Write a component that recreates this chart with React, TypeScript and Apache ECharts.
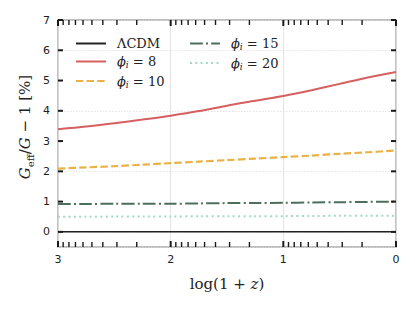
import React, { useEffect, useRef } from "react";
import * as echarts from "echarts";

// log(1+z) sample positions (axis runs from 3 on the left to 0 on the right)
const logx = [3, 2.75, 2.5, 2.25, 2, 1.75, 1.5, 1.25, 1, 0.75, 0.5, 0.25, 0];
const lcdm = [0, 0, 0, 0, 0, 0, 0, 0, 0, 0, 0, 0, 0];
const phi8 = [3.39, 3.48, 3.59, 3.71, 3.84, 3.99, 4.17, 4.33, 4.49, 4.68, 4.89, 5.1, 5.28];
const phi10 = [2.09, 2.13, 2.17, 2.22, 2.27, 2.32, 2.37, 2.42, 2.47, 2.52, 2.58, 2.63, 2.69];
const phi15 = [0.92, 0.92, 0.93, 0.93, 0.93, 0.94, 0.95, 0.95, 0.96, 0.97, 0.98, 0.99, 1.0];
const phi20 = [0.5, 0.5, 0.505, 0.51, 0.51, 0.515, 0.52, 0.52, 0.52, 0.525, 0.53, 0.53, 0.53];

const Y_MIN = -0.5;
const Y_MAX = 7;
const X_MIN = 0;
const X_MAX = 3;
const yTicks = [0, 1, 2, 3, 4, 5, 6, 7];
const xMajor = [0, 1, 2, 3];
const minorK = [2, 3, 4, 5, 6, 7, 8, 9];
const xMinor = [0, 1, 2].flatMap((n) => minorK.map((k) => n + Math.log10(k)));

const names = ["ΛCDM", "ϕ=8", "ϕ=10", "ϕ=15", "ϕ=20"];

const SERIF = "'DejaVu Serif', 'Liberation Serif', serif";
const SANS = "'DejaVu Sans', sans-serif";

export default function App() {
  const ref = useRef<HTMLDivElement>(null);
  useEffect(() => {
    document.body.style.margin = "0";
    const chart = echarts.init(ref.current!, null, { renderer: "svg" });
    const pair = (ys: number[]) => logx.map((x, i) => [x, ys[i]]);
    const TICK = "#1a1a1a";
    const legendRich = {
      g: { padding: [0, 0, 0, 6], fontFamily: SERIF, fontSize: 13, lineHeight: 16, color: "#222" },
      t: { fontFamily: SERIF, fontSize: 13, lineHeight: 16, color: "#222" },
      m: { fontFamily: SERIF, fontStyle: "italic", fontSize: 13, lineHeight: 16, color: "#222", padding: [0, 0, 0, 6] },
      s: { fontFamily: SERIF, fontStyle: "italic", fontSize: 9, lineHeight: 8, verticalAlign: "bottom", color: "#222" },
    };
    const legendFmt = (name: string) => {
      if (name === "ΛCDM") return "{g|ΛCDM}";
      const v = name.split("=")[1];
      return `{m|ϕ}{s|i}{t| = ${v}}`;
    };
    const legendBase = {
      orient: "vertical",
      itemWidth: 30,
      itemHeight: 14,
      itemGap: 5,
      formatter: legendFmt,
      textStyle: { rich: legendRich },
      itemStyle: { opacity: 0 },
      backgroundColor: "transparent",
    };

    // tick marks: [value, length px, width px]
    const xTickData = [
      ...xMajor.map((v) => [v, 6, 2]),
      ...xMinor.map((v) => [v, 5, 1.4]),
    ];
    const yTickData = yTicks.map((v) => [v, 5, 2]);

    const xTickSeries = {
      type: "custom",
      name: "xticks",
      silent: true,
      clip: false,
      z: 5,
      data: xTickData,
      encode: { x: 0 },
      renderItem: (_p: any, api: any) => {
        const x = api.value(0);
        const len = api.value(1);
        const w = api.value(2);
        const b = api.coord([x, Y_MIN]);
        const t = api.coord([x, Y_MAX]);
        const style = { stroke: TICK, lineWidth: w };
        return {
          type: "group",
          children: [
            { type: "line", shape: { x1: b[0], y1: b[1], x2: b[0], y2: b[1] - len }, style },
            { type: "line", shape: { x1: t[0], y1: t[1], x2: t[0], y2: t[1] + len }, style },
          ],
        };
      },
    };
    const yTickSeries = {
      type: "custom",
      name: "yticks",
      silent: true,
      clip: false,
      z: 5,
      data: yTickData,
      encode: { y: 0 },
      renderItem: (_p: any, api: any) => {
        const y = api.value(0);
        const len = api.value(1);
        const w = api.value(2);
        const l = api.coord([X_MAX, y]);
        const r = api.coord([X_MIN, y]);
        const style = { stroke: TICK, lineWidth: w };
        return {
          type: "group",
          children: [
            { type: "line", shape: { x1: l[0], y1: l[1], x2: l[0] + len, y2: l[1] }, style },
            { type: "line", shape: { x1: r[0], y1: r[1], x2: r[0] - len, y2: r[1] }, style },
          ],
        };
      },
    };

    chart.setOption({
      animation: false,
      grid: {
        left: 58, right: 19, top: 20, bottom: 65,
        show: true, borderColor: "#bdbdbd", borderWidth: 1.8, backgroundColor: "transparent",
      },
      legend: [
        { ...legendBase, data: [names[0], names[1], names[2]], left: 70, top: 32 },
        { ...legendBase, data: [names[3], names[4]], left: 184, top: 32 },
      ],
      xAxis: {
        type: "value",
        position: "bottom",
        min: X_MIN,
        max: X_MAX,
        interval: 1,
        inverse: true,
        axisLine: { show: false, onZero: false },
        axisTick: { show: false },
        axisLabel: { show: true, margin: 7, fontSize: 11, fontFamily: SANS, color: "#222" },
        splitLine: { show: true, lineStyle: { color: "#dddddd", width: 0.8 } },
      },
      yAxis: {
        type: "value",
        position: "left",
        min: Y_MIN,
        max: Y_MAX,
        axisLine: { show: false, onZero: false },
        axisTick: { show: false },
        axisLabel: { show: true, customValues: yTicks, margin: 8, fontSize: 11, fontFamily: SANS, color: "#222" },
        splitLine: { show: true, lineStyle: { color: "#dddddd", width: 0.8, type: [1.5, 1.5] } },
      },
      series: [
        {
          name: names[0], type: "line", data: pair(lcdm), symbol: "none",
          lineStyle: { color: "#222222", width: 1.5 }, itemStyle: { color: "#222222" },
        },
        {
          name: names[1], type: "line", data: pair(phi8), symbol: "none", smooth: 0.3,
          lineStyle: { color: "#d65f5f", width: 2 }, itemStyle: { color: "#d65f5f" },
        },
        {
          name: names[2], type: "line", data: pair(phi10), symbol: "none", smooth: 0.3,
          lineStyle: { color: "#eab246", width: 2.2, type: [7.4, 3.2] }, itemStyle: { color: "#eab246" },
        },
        {
          name: names[3], type: "line", data: pair(phi15), symbol: "none", smooth: 0.3,
          lineStyle: { color: "#4d6e5a", width: 2, type: [12.8, 3.2, 2, 3.2] }, itemStyle: { color: "#4d6e5a" },
        },
        {
          name: names[4], type: "line", data: pair(phi20), symbol: "none", smooth: 0.3,
          lineStyle: { color: "#a4d8c6", width: 2, type: [2, 3.3] }, itemStyle: { color: "#a4d8c6" },
        },
        xTickSeries,
        yTickSeries,
      ],
      graphic: [
        {
          type: "text",
          x: 227,
          y: 284,
          style: {
            text: "{t|log(1 + }{i|z}{t|)}",
            align: "center",
            verticalAlign: "middle",
            rich: {
              t: { fontFamily: SERIF, fontSize: 15, fill: "#222" },
              i: { fontFamily: SERIF, fontSize: 15, fontStyle: "italic", fill: "#222" },
            },
          },
        },
        {
          type: "text",
          x: 25,
          y: 127,
          rotation: Math.PI / 2,
          style: {
            text: "{i|G}{s|eff}{t|/}{i|G}{t| − 1 [%]}",
            align: "center",
            verticalAlign: "middle",
            rich: {
              t: { fontFamily: SERIF, fontSize: 15, lineHeight: 20, fill: "#222" },
              i: { fontFamily: SERIF, fontSize: 15, lineHeight: 20, fontStyle: "italic", fill: "#222" },
              s: { fontFamily: SERIF, fontSize: 10, lineHeight: 10, verticalAlign: "bottom", fill: "#222" },
            },
          },
        },
      ],
    });
    return () => chart.dispose();
  }, []);
  return <div ref={ref} style={{ width: 415, height: 312 }} />;
}
